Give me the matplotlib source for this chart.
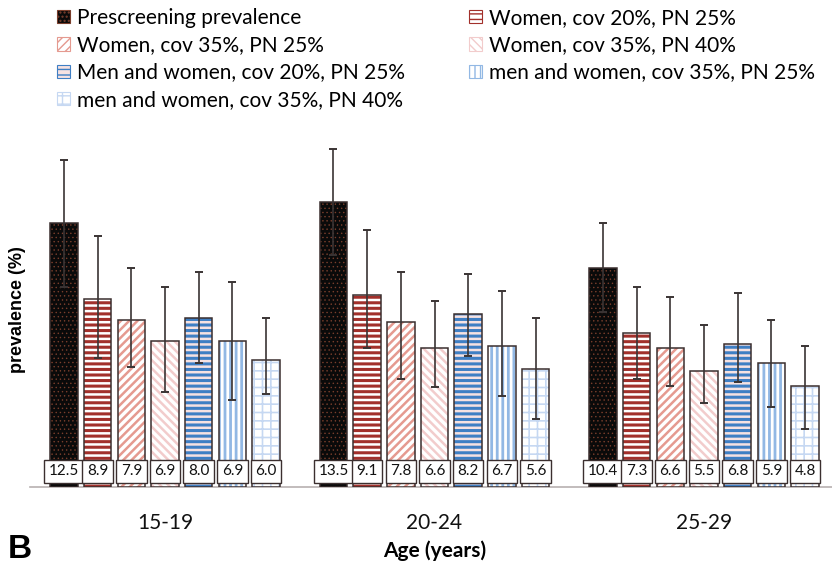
import matplotlib
matplotlib.use("Agg")
import matplotlib.pyplot as plt
import numpy as np
from matplotlib.patches import Patch

# ---- data ----
age_groups = ["15-19", "20-24", "25-29"]
series_names = [
    "Prescreening prevalence",
    "Women, cov 20%, PN 25%",
    "Women, cov 35%, PN 25%",
    "Women, cov 35%, PN 40%",
    "Men and women, cov 20%, PN 25%",
    "men and women, cov 35%, PN 25%",
    "men and women, cov 35%, PN 40%",
]
# prevalence (%) per series, one value per age group
prev_prescreening = [12.5, 13.5, 10.4]
prev_w20_pn25 = [8.9, 9.1, 7.3]
prev_w35_pn25 = [7.9, 7.8, 6.6]
prev_w35_pn40 = [6.9, 6.6, 5.5]
prev_mw20_pn25 = [8.0, 8.2, 6.8]
prev_mw35_pn25 = [6.9, 6.7, 5.9]
prev_mw35_pn40 = [6.0, 5.6, 4.8]

# confidence interval bounds
low_prescreening = [9.5, 11.0, 8.3]
high_prescreening = [15.5, 16.0, 12.5]
low_w20_pn25 = [6.1, 6.6, 5.1]
high_w20_pn25 = [11.9, 12.2, 9.5]
low_w35_pn25 = [5.7, 5.1, 4.8]
high_w35_pn25 = [10.4, 10.2, 9.0]
low_w35_pn40 = [4.5, 4.75, 4.0]
high_w35_pn40 = [9.5, 8.8, 7.7]
low_mw20_pn25 = [5.9, 6.2, 5.0]
high_mw20_pn25 = [10.2, 10.1, 9.2]
low_mw35_pn25 = [4.1, 4.3, 3.8]
high_mw35_pn25 = [9.7, 9.3, 7.9]
low_mw35_pn40 = [4.4, 3.2, 2.75]
high_mw35_pn40 = [8.0, 8.0, 6.7]

values = [prev_prescreening, prev_w20_pn25, prev_w35_pn25, prev_w35_pn40,
          prev_mw20_pn25, prev_mw35_pn25, prev_mw35_pn40]
lows = [low_prescreening, low_w20_pn25, low_w35_pn25, low_w35_pn40,
        low_mw20_pn25, low_mw35_pn25, low_mw35_pn40]
highs = [high_prescreening, high_w20_pn25, high_w35_pn25, high_w35_pn40,
         high_mw20_pn25, high_mw35_pn25, high_mw35_pn40]

# fill / hatch styling for each series
styles = [
    dict(face="#0a0a0a", hatch="....", hcolor="#7a3e2c", hlw=0.5),
    dict(face="#ffffff", hatch="---", hcolor="#a2302b", hlw=2.2),
    dict(face="#ffffff", hatch="////", hcolor="#e59a90", hlw=1.8),
    dict(face="#ffffff", hatch="\\\\\\\\", hcolor="#f2cccc", hlw=1.8),
    dict(face="#f6e2e2", hatch="---", hcolor="#3f7fc4", hlw=2.2),
    dict(face="#ffffff", hatch="|||", hcolor="#92b8e4", hlw=2.0),
    dict(face="#ffffff", hatch="++", hcolor="#c6d8f2", hlw=1.2),
]

FONT = "Lato"

W, H = 832, 563
fig = plt.figure(figsize=(W / 100, H / 100), dpi=100)
ax_left, ax_right, ax_bottom, ax_top = 30, 832, 487, 140
ax = fig.add_axes([ax_left / W, 1 - ax_bottom / H,
                   (ax_right - ax_left) / W, (ax_bottom - ax_top) / H])

x = np.arange(len(age_groups))
pitch = 0.125
bar_w = 0.1024
n = len(values)
edge = "#3b2f2f"

handles = []
for i, (vals, lo, hi, st) in enumerate(zip(values, lows, highs, styles)):
    pos = x + (i - (n - 1) / 2) * pitch
    with plt.rc_context({"hatch.linewidth": st["hlw"]}):
        ax.bar(pos, vals, bar_w, color=st["face"], hatch=st["hatch"],
               edgecolor=st["hcolor"], linewidth=0, zorder=2)
        handles.append(Patch(facecolor=st["face"], hatch=st["hatch"],
                             edgecolor=st["hcolor"], label=series_names[i]))
    ax.bar(pos, vals, bar_w, fill=False, edgecolor=edge, linewidth=1.1, zorder=3)
    vals_a = np.array(vals)
    yerr = np.vstack([vals_a - np.array(lo), np.array(hi) - vals_a])
    ax.errorbar(pos, vals_a, yerr=yerr, fmt="none", ecolor="#3a3434",
                elinewidth=1.2, capsize=3, capthick=1.4, zorder=4)
    for p, v in zip(pos, vals):
        ax.text(p, 0.74, f"{v:.1f}", ha="center", va="center",
                fontsize=11, family=FONT, color="#111111", zorder=6,
                bbox=dict(boxstyle="square,pad=0.3", fc="white",
                          ec=edge, lw=1.0))

ax.set_xlim(-(165 - ax_left) / 269.5, (ax_right - 165) / 269.5)
ax.set_ylim(0, (ax_bottom - ax_top) / 21.1)
for s in ["left", "right", "top"]:
    ax.spines[s].set_visible(False)
ax.spines["bottom"].set_color("#b8b0b0")
ax.spines["bottom"].set_linewidth(1.2)
ax.spines["bottom"].set_zorder(1)
ax.set_yticks([])
ax.set_xticks(x)
ax.set_xticklabels(age_groups, family=FONT, fontsize=15, color="#111111")
ax.tick_params(axis="x", length=0, pad=19)

fig.text(435 / W, 1 - 551 / H, "Age (years)", ha="center", va="center",
         family=FONT, fontsize=15, fontweight="bold")
fig.text(18 / W, 1 - 310 / H, "prevalence (%)", ha="center", va="center",
         rotation=90, family="Liberation Sans", fontsize=13, fontweight="bold")
fig.text(8 / W, 1 - 549 / H, "B", ha="left", va="center",
         family="Liberation Sans", fontsize=24, fontweight="bold")

# legend in two columns, filled row by row
leg_kw = dict(frameon=False, prop=dict(family=FONT, size=15),
              handlelength=0.62, handleheight=0.62, handletextpad=0.32,
              labelspacing=0.35, borderaxespad=0, borderpad=0)
left_idx = [0, 2, 4, 6]
right_idx = [1, 3, 5]
leg1 = fig.legend([handles[k] for k in left_idx],
                  [series_names[k] for k in left_idx],
                  loc="upper left", bbox_to_anchor=(57 / W, 1 - 8 / H), **leg_kw)
leg2 = fig.legend([handles[k] for k in right_idx],
                  [series_names[k] for k in right_idx],
                  loc="upper left", bbox_to_anchor=(469 / W, 1 - 8 / H), **leg_kw)
for lg in (leg1, leg2):
    for h in lg.legend_handles:
        h.set_linewidth(0.8)

fig.savefig("out.png", dpi=100)
